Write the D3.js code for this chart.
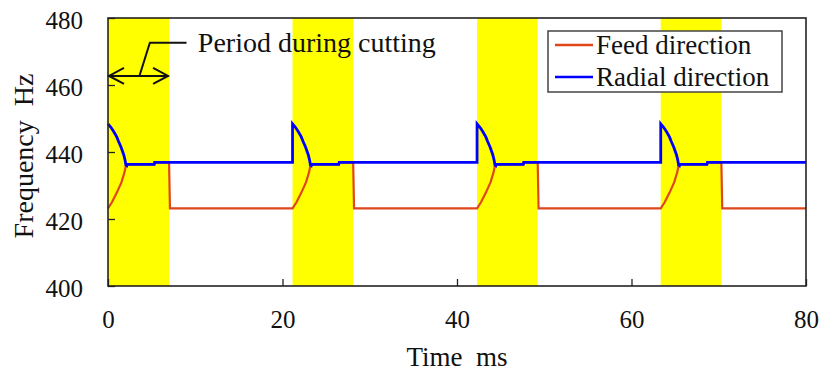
<!DOCTYPE html>
<html>
<head>
<meta charset="utf-8">
<script src="https://cdn.jsdelivr.net/npm/d3@7"></script>
<style>
  body { margin: 0; background: #fff; }
</style>
</head>
<body>
<svg width="821" height="372"></svg>
<script>
// cutting periods (ms) - yellow bands
var cutStart = [0, 21.15, 42.3, 63.35];
var cutEnd = [7, 28.1, 49.25, 70.3];

// transient after each cut start: offset ms / Hz
var feedRiseT = [0, 0.45, 1.0, 1.55, 1.9, 2.05];
var feedRiseHz = [423.2, 425.0, 427.8, 431.0, 434.0, 436.0];
var radialFallT = [0, 0.35, 0.65, 1.0, 1.2, 1.5, 1.8, 1.95, 2.05, 2.15];
var radialFallHz = [448.4, 447.3, 446.1, 444.5, 443.2, 441.4, 439.2, 437.6, 436.1, 435.9];

// levels
var feedIdleHz = 423.2;
var radialIdleHz = 436.9;
var plateauT = [2.2, 5.3];     // ms after cut start
var plateauHz = [436.3, 436.9];

var xTicks = [0, 20, 40, 60, 80];
var yTicks = [400, 420, 440, 460, 480];

var serif = '"Liberation Serif", "Times New Roman", serif';

var margins = { top: 18, bottom: 86, left: 108, right: 15 };
var svg = d3.select("svg");
var svgWidth = +svg.attr("width");
var svgHeight = +svg.attr("height");
var chartWidth = svgWidth - margins.left - margins.right;
var chartHeight = svgHeight - margins.top - margins.bottom;

var g = svg.append("g").attr("transform", `translate(${margins.left},${margins.top})`);

var xScale = d3.scaleLinear([0, 80], [0, chartWidth]);
var yScale = d3.scaleLinear([400, 480], [chartHeight, 0]);

// build the two series from the pieces above
var feed = [];
var radial = [];
cutStart.forEach(function (t0, i) {
  if (i > 0) radial.push([t0, radialIdleHz]);
  radialFallT.forEach(function (dt, j) { radial.push([t0 + dt, radialFallHz[j]]); });
  radial.push([t0 + plateauT[0], plateauHz[0]]);
  radial.push([t0 + plateauT[1], plateauHz[0]]);
  radial.push([t0 + plateauT[1] + 0.05, plateauHz[1]]);

  feedRiseT.forEach(function (dt, j) { feed.push([t0 + dt, feedRiseHz[j]]); });
  feed.push([t0 + plateauT[0], plateauHz[0]]);
  feed.push([t0 + plateauT[1], plateauHz[0]]);
  feed.push([t0 + plateauT[1] + 0.05, plateauHz[1]]);
  feed.push([cutEnd[i], plateauHz[1]]);
  feed.push([cutEnd[i] + 0.1, feedIdleHz]);
});
radial.push([80, radialIdleHz]);
feed.push([80, feedIdleHz]);

// yellow bands
g.selectAll("rect.band")
  .data(cutStart)
  .enter()
  .append("rect")
  .attr("class", "band")
  .attr("x", function (d) { return xScale(d); })
  .attr("y", 0)
  .attr("width", function (d, i) { return xScale(cutEnd[i]) - xScale(d); })
  .attr("height", chartHeight)
  .style("fill", "#ffff00");

// axes, inward ticks
var xAxis = g.append("g")
  .attr("transform", `translate(0,${chartHeight})`)
  .call(d3.axisBottom(xScale).tickValues(xTicks).tickSize(-7).tickFormat(d3.format("d")));
xAxis.select(".domain").remove();
xAxis.selectAll("text").attr("y", 42).attr("dy", null);

var yAxis = g.append("g")
  .call(d3.axisLeft(yScale).tickValues(yTicks).tickSize(-7).tickFormat(d3.format("d")));
yAxis.select(".domain").remove();
yAxis.selectAll("text").attr("x", -25).attr("dy", "0.4em");

g.selectAll(".tick text")
  .style("font-family", serif)
  .style("font-size", "25px")
  .style("fill", "#111");
g.selectAll(".tick line").style("stroke", "#222").style("stroke-width", 1.3);

// lines
var line = d3.line()
  .x(function (d) { return xScale(d[0]); })
  .y(function (d) { return yScale(d[1]); });

g.append("path").datum(feed)
  .attr("d", line)
  .style("fill", "none")
  .style("stroke", "#e0461c")
  .style("stroke-width", 2.2);

g.append("path").datum(radial)
  .attr("d", line)
  .style("fill", "none")
  .style("stroke", "#0000ff")
  .style("stroke-width", 2.8);

// frame
g.append("rect")
  .attr("width", chartWidth)
  .attr("height", chartHeight)
  .style("fill", "none")
  .style("stroke", "#222")
  .style("stroke-width", 1.6);

// annotation: period during cutting
var ay = yScale(462.7);
var ann = g.append("g").style("stroke", "#111").style("stroke-width", 2).style("fill", "none");
ann.append("line").attr("x1", xScale(0) + 1).attr("x2", xScale(7) - 1).attr("y1", ay).attr("y2", ay);
ann.append("path").attr("d", `M${xScale(0) + 16},${ay - 8}L${xScale(0) + 1},${ay}L${xScale(0) + 16},${ay + 8}`);
ann.append("path").attr("d", `M${xScale(7) - 16},${ay - 8}L${xScale(7) - 1},${ay}L${xScale(7) - 16},${ay + 8}`);
ann.append("path").attr("d", `M${xScale(3.6)},${ay}L${xScale(4.8)},${yScale(472.6)}L${xScale(9.0)},${yScale(472.6)}`);
g.append("text")
  .attr("x", xScale(10.3))
  .attr("y", yScale(472.6))
  .attr("dy", "0.33em")
  .style("font-family", serif)
  .style("font-size", "28px")
  .style("fill", "#111")
  .text("Period during cutting");

// legend
var leg = svg.append("g").attr("transform", "translate(548,31)");
leg.append("rect")
  .attr("width", 234)
  .attr("height", 61)
  .style("fill", "#fff")
  .style("stroke", "#444")
  .style("stroke-width", 1.5);
var legendItems = [["Feed direction", "#e0461c"], ["Radial direction", "#0000ff"]];
legendItems.forEach(function (d, i) {
  var yy = 14 + i * 32;
  leg.append("line")
    .attr("x1", 7).attr("x2", 45).attr("y1", yy).attr("y2", yy)
    .style("stroke", d[1]).style("stroke-width", 2.5);
  leg.append("text")
    .attr("x", 48).attr("y", yy).attr("dy", "0.33em")
    .style("font-family", serif)
    .style("font-size", "27px")
    .style("fill", "#111")
    .text(d[0]);
});

// axis titles
svg.append("text")
  .attr("x", margins.left + chartWidth / 2)
  .attr("y", 366)
  .attr("text-anchor", "middle")
  .style("font-family", serif)
  .style("font-size", "27px")
  .style("fill", "#111")
  .style("white-space", "pre")
  .text("Time  ms");

svg.append("text")
  .attr("transform", "translate(33,156) rotate(-90)")
  .attr("text-anchor", "middle")
  .style("font-family", serif)
  .style("font-size", "28px")
  .style("fill", "#111")
  .style("white-space", "pre")
  .text("Frequency  Hz");
</script>
</body>
</html>
